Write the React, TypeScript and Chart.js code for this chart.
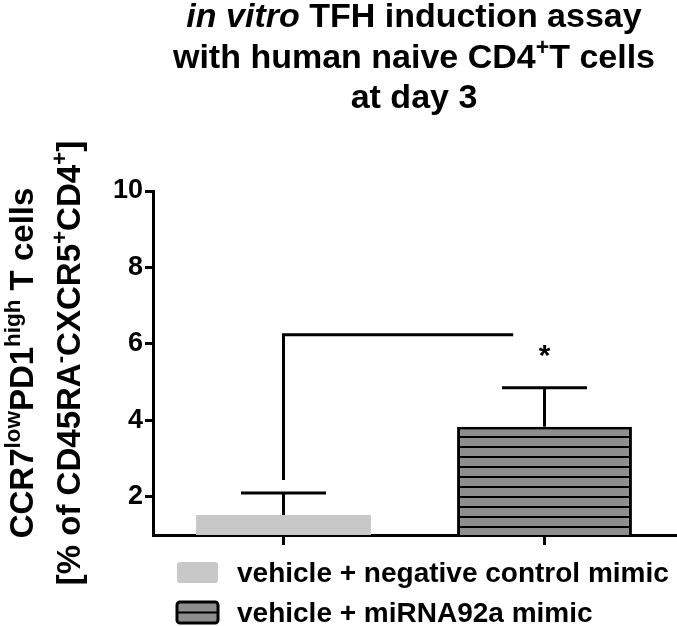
import React, { useEffect, useRef } from "react";
import { Chart, registerables } from "chart.js";

Chart.register(...registerables);

// ---------- data ----------
const categories = ["vehicle + negative control mimic", "vehicle + miRNA92a mimic"];
const means = [1.52, 3.83];
const sems = [0.58, 1.02];
const yTicks = [2, 4, 6, 8, 10];
const yMin = 1;
const yMax = 10;
// significance bracket: from category 0 (y from bracketLow to bracketHigh) over to bracketEnd (category units)
const bracketLow = 2.44;
const bracketHigh = 6.24;
const bracketEnd = 0.88;
const starLabel = "*";
const starValue = 5.79;
const starCategory = 1;

type Seg = { t: string; sup?: boolean; it?: boolean };
const titleLines: Seg[][] = [
  [{ t: "in vitro", it: true }, { t: " TFH induction assay" }],
  [{ t: "with human naive CD4" }, { t: "+", sup: true }, { t: "T cells" }],
  [{ t: "at day 3" }],
];
const yTitleLines: Seg[][] = [
  [{ t: "CCR7" }, { t: "low", sup: true }, { t: "PD1" }, { t: "high", sup: true }, { t: " T cells" }],
  [
    { t: "[% of CD45RA" },
    { t: "-", sup: true },
    { t: "CXCR5" },
    { t: "+", sup: true },
    { t: "CD4" },
    { t: "+", sup: true },
    { t: "]" },
  ],
];

const FAMILY = '"Liberation Sans", Arial, Helvetica, sans-serif';

function segFont(size: number, s: Seg) {
  const sz = s.sup ? size * 0.68 : size;
  return `${s.it ? "italic " : ""}bold ${sz}px ${FAMILY}`;
}
function measureSegs(ctx: CanvasRenderingContext2D, segs: Seg[], size: number) {
  let w = 0;
  for (const s of segs) {
    ctx.font = segFont(size, s);
    w += ctx.measureText(s.t).width;
  }
  return w;
}
function drawSegs(ctx: CanvasRenderingContext2D, segs: Seg[], size: number, align: "left" | "center") {
  let x = align === "center" ? -measureSegs(ctx, segs, size) / 2 : 0;
  ctx.textAlign = "left";
  ctx.textBaseline = "alphabetic";
  for (const s of segs) {
    ctx.font = segFont(size, s);
    ctx.fillText(s.t, x, s.sup ? -size * 0.38 : 0);
    x += ctx.measureText(s.t).width;
  }
}

export default function App() {
  const ref = useRef<HTMLCanvasElement | null>(null);

  useEffect(() => {
    const canvas = ref.current;
    if (!canvas) return;

    // hatched pattern for second bar
    const pc = document.createElement("canvas");
    pc.width = 10;
    pc.height = 10;
    const pctx = pc.getContext("2d")!;
    pctx.fillStyle = "#8e8e8e";
    pctx.fillRect(0, 0, 10, 10);
    pctx.fillStyle = "#000";
    pctx.fillRect(0, 6, 10, 2);
    const ctx0 = canvas.getContext("2d")!;
    const hatch = ctx0.createPattern(pc, "repeat")!;

    const overlay = {
      id: "overlay",
      afterDatasetsDraw(chart: any) {
        const ctx: CanvasRenderingContext2D = chart.ctx;
        const xs = chart.scales.x;
        const ys = chart.scales.y;
        ctx.save();
        ctx.strokeStyle = "#000";
        ctx.lineWidth = 3;
        ctx.lineCap = "butt";
        // error bars
        chart.data.datasets.forEach((ds: any, i: number) => {
          const el = chart.getDatasetMeta(i).data[i];
          if (!el) return;
          const x = el.x;
          const yTop = ys.getPixelForValue(means[i]);
          const yCap = ys.getPixelForValue(means[i] + sems[i]);
          ctx.beginPath();
          ctx.moveTo(x, yTop);
          ctx.lineTo(x, yCap);
          ctx.moveTo(x - 42.5, yCap);
          ctx.lineTo(x + 42.5, yCap);
          ctx.stroke();
        });
        // bracket
        const bx = xs.getPixelForValue(0);
        const bx2 = xs.getPixelForValue(bracketEnd);
        const by1 = ys.getPixelForValue(bracketLow);
        const by2 = ys.getPixelForValue(bracketHigh);
        ctx.beginPath();
        ctx.moveTo(bx, by1);
        ctx.lineTo(bx, by2);
        ctx.lineTo(bx2, by2);
        ctx.stroke();
        // star
        ctx.fillStyle = "#000";
        ctx.font = `bold 30px ${FAMILY}`;
        ctx.textAlign = "center";
        ctx.textBaseline = "alphabetic";
        ctx.fillText(starLabel, xs.getPixelForValue(starCategory), ys.getPixelForValue(starValue) + 30 * 0.45);
        ctx.restore();
      },
      afterDraw(chart: any) {
        const ctx: CanvasRenderingContext2D = chart.ctx;
        const area = chart.chartArea;
        ctx.save();
        ctx.fillStyle = "#000";
        // title, centred over plot area
        const titleBase = [27, 68, 108];
        const cx = (area.left + area.right) / 2;
        titleLines.forEach((line, i) => {
          ctx.save();
          ctx.translate(cx, titleBase[i]);
          drawSegs(ctx, line, 34, "center");
          ctx.restore();
        });
        // y title (rotated)
        const yBase = [33, 80];
        const yCenter = (area.top + area.bottom) / 2;
        yTitleLines.forEach((line, i) => {
          ctx.save();
          ctx.translate(yBase[i], yCenter);
          ctx.rotate(-Math.PI / 2);
          drawSegs(ctx, line, 33, "center");
          ctx.restore();
        });
        // legend
        const boxX = 177;
        const boxW = 41;
        const boxH = 21;
        const boxY = [562, 602];
        const textY = [582, 622];
        chart.data.datasets.forEach((ds: any, i: number) => {
          const y = boxY[i];
          ctx.save();
          ctx.beginPath();
          ctx.roundRect(boxX, y, boxW, boxH, 3);
          if (i === 0) {
            ctx.fillStyle = ds.backgroundColor;
            ctx.fill();
          } else {
            ctx.fillStyle = "#8e8e8e";
            ctx.fill();
            ctx.fillStyle = "#000";
            ctx.fillRect(boxX, y + boxH / 2 - 1, boxW, 2);
            ctx.lineWidth = 3;
            ctx.strokeStyle = "#000";
            ctx.stroke();
          }
          ctx.restore();
          ctx.save();
          ctx.translate(237, textY[i]);
          drawSegs(ctx, [{ t: ds.label }], 28, "left");
          ctx.restore();
        });
        ctx.restore();
      },
    };

    const chart = new Chart(canvas, {
      type: "bar",
      data: {
        labels: categories,
        datasets: [
          {
            label: categories[0],
            data: [means[0], null],
            backgroundColor: "#c8c8c8",
            borderWidth: 0,
          },
          {
            label: categories[1],
            data: [null, means[1]],
            backgroundColor: hatch as any,
            borderColor: "#000",
            borderWidth: 3,
          },
        ],
      },
      options: {
        animation: false,
        responsive: false,
        devicePixelRatio: 1,
        grouped: false,
        barPercentage: 0.67,
        categoryPercentage: 1,
        layout: { padding: { top: 191, left: 0, right: 2, bottom: 0 } },
        plugins: {
          legend: { display: false },
          title: { display: false },
          tooltip: { enabled: false },
        },
        scales: {
          x: {
            type: "category",
            offset: true,
            grid: {
              display: true,
              drawOnChartArea: false,
              drawTicks: true,
              tickLength: 10,
              offset: false,
              color: "#000",
              lineWidth: 3,
            },
            border: { display: true, color: "#000", width: 3 },
            ticks: { display: false },
            afterFit: (s: any) => {
              s.height = 91;
            },
          },
          y: {
            type: "linear",
            min: yMin,
            max: yMax,
            afterBuildTicks: (s: any) => {
              s.ticks = yTicks.map((v) => ({ value: v }));
            },
            grid: {
              display: true,
              drawOnChartArea: false,
              drawTicks: true,
              tickLength: 8,
              color: "#000",
              lineWidth: 3,
            },
            border: { display: true, color: "#000", width: 3 },
            ticks: {
              color: "#000",
              padding: 2,
              font: { size: 27, weight: "bold", family: FAMILY },
            },
            afterFit: (s: any) => {
              s.width = 153;
            },
          },
        },
      } as any,
      plugins: [overlay],
    });

    return () => chart.destroy();
  }, []);

  return (
    <div style={{ position: "absolute", left: 0, top: 0, width: 677, height: 626, background: "#fff" }}>
      <canvas ref={ref} width={677} height={626} style={{ display: "block" }} />
    </div>
  );
}
